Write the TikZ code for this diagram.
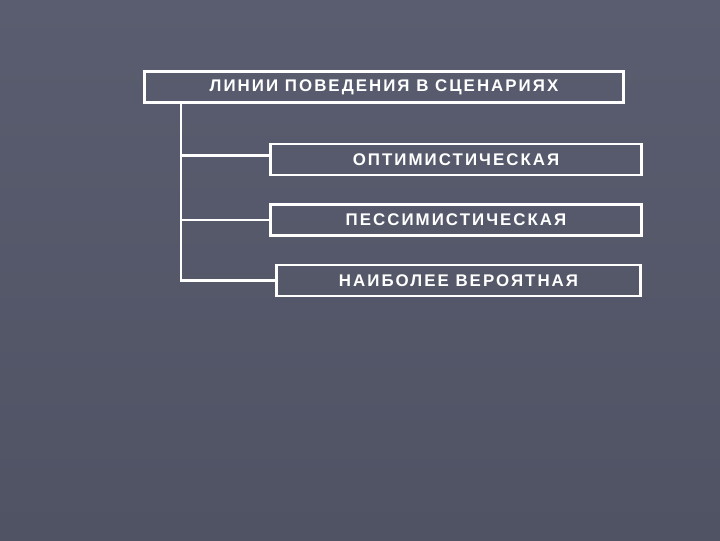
\documentclass[tikz,border=0pt]{standalone}
\usepackage{fontspec}
\setmainfont{Liberation Sans}
\newfontfamily\boxfont[LetterSpace=12]{Liberation Sans}
\definecolor{slatetop}{HTML}{595D6F}
\definecolor{slatebot}{HTML}{4F5364}

\tikzset{
    linebox/.style={draw=white, line width=2.1pt, minimum height=31*0.025cm,
        text=white, font=\boxfont\bfseries\fontsize{12}{14}\selectfont, inner sep=0pt},
    branch/.style={draw=white, line width=2.1pt}
}

\begin{document}
\begin{tikzpicture}[x=0.025cm, y=-0.025cm]
%\draw [help lines, step=20] (0,0) grid (720,540);
    \shade[top color=slatetop, bottom color=slatebot] (0,0) rectangle (720,540);
    \node (lines) [linebox, minimum width=479*0.025cm] at (384,87) {ЛИНИИ ПОВЕДЕНИЯ В СЦЕНАРИЯХ};
    \node (opt) [linebox, minimum width=371*0.025cm] at (456,159.5) {ОПТИМИСТИЧЕСКАЯ};
    \node (pess) [linebox, minimum width=371*0.025cm] at (456,220) {ПЕССИМИСТИЧЕСКАЯ};
    \node (likely) [linebox, minimum width=364*0.025cm] at (458.5,280.5) {НАИБОЛЕЕ ВЕРОЯТНАЯ};
    \coordinate (spine) at (181,103);
    \draw [branch] (spine) |- (likely.west);
    \draw [branch] (spine) |- ([yshift=0.1cm]opt.west);
    \draw [branch] (spine) |- (pess.west);
\end{tikzpicture}
\end{document}
